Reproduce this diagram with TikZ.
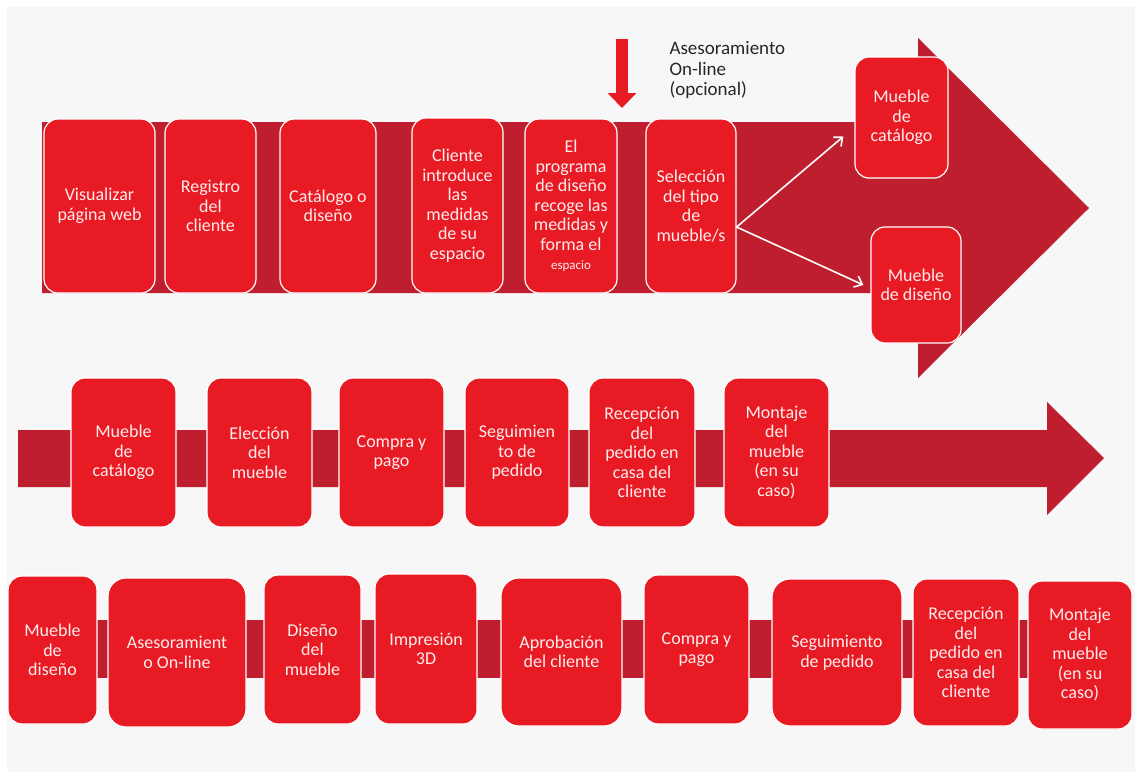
\documentclass[tikz,border=0pt]{standalone}
\usepackage{fontspec}
\setmainfont{Carlito}
\usepackage{tikz}
\usetikzlibrary{arrows.meta}
\definecolor{boxred}{RGB}{232,27,36}
\definecolor{bandred}{RGB}{190,30,45}
\definecolor{bggray}{RGB}{247,247,247}
\definecolor{boxtext}{RGB}{255,236,236}
\tikzstyle{block} = [rectangle, draw=white, line width=1.2pt, fill=boxred,
    rounded corners=14pt, text=boxtext, align=center, inner sep=0pt,
    font=\fontsize{18}{19.5}\selectfont]
\tikzstyle{band} = [fill=bandred]
\tikzstyle{line} = [draw=white, line width=1.6pt, -{Straight Barb[length=7pt,width=12pt]}]
\tikzstyle{advice} = [draw=boxred, line width=12pt, -{Triangle[length=15pt,width=28pt]}]

\begin{document}
\begin{tikzpicture}[x=1pt, y=-1pt]
   \useasboundingbox (0,0) rectangle (1135,772);
   \fill [bggray] (7,7) rectangle (1135,772);

   % big arrows behind the steps
   \fill [band] (42,122) -- (918,122) -- (918,38) -- (1089,208) -- (918,378)
      -- (918,293) -- (42,293) -- cycle;
   \fill [band] (18,430) -- (1047,430) -- (1047,402) -- (1104,458) -- (1047,515)
      -- (1047,487) -- (18,487) -- cycle;
   \fill [band] (52,620) rectangle (1080,678);

   % first row
   \node [block, minimum width=111pt, minimum height=174pt] (web) at (99.5,206)
      {Visualizar\\página web};
   \node [block, minimum width=91pt, minimum height=174pt] (registro) at (210.5,206)
      {Registro\\del\\cliente};
   \node [block, minimum width=96pt, minimum height=174pt] (eleccion) at (328,206)
      {Catálogo o\\diseño};
   \node [block, minimum width=91pt, minimum height=175pt] (medidas) at (457.5,205.5)
      {Cliente\\introduce\\las\\medidas\\de su\\espacio};
   \node [block, minimum width=92pt, minimum height=174pt] (programa) at (571,206)
      {El\\programa\\de diseño\\recoge las\\medidas y\\forma el\\{\fontsize{13}{15}\selectfont espacio}};
   \node [block, minimum width=90pt, minimum height=174pt] (seleccion) at (691,206)
      {Selección\\del tipo\\de\\mueble/s};
   \node [block, minimum width=93pt, minimum height=121pt] (catalogo) at (901.5,117.5)
      {Mueble\\de\\catálogo};
   \node [block, minimum width=90pt, minimum height=116pt] (diseno) at (916,285)
      {Mueble\\de diseño};

   \coordinate (advtop) at (622,39);
   \coordinate (advtip) at (622,108);
   \node [anchor=west, align=left, text=black!85, font=\fontsize{19}{20.5}\selectfont]
      (asesor) at (666,70) {Asesoramiento\\On-line\\(opcional)};

   % second row: catalogue furniture
   \node [block, minimum width=105pt, minimum height=149pt] (ccat) at (123.5,452.5)
      {Mueble\\de\\catálogo};
   \node [block, minimum width=105pt, minimum height=149pt] (celec) at (259.5,452.5)
      {Elección\\del\\mueble};
   \node [block, minimum width=105pt, minimum height=149pt] (ccompra) at (391.5,452.5)
      {Compra y\\pago};
   \node [block, minimum width=104pt, minimum height=149pt] (cseg) at (517,452.5)
      {Seguimien\\to de\\pedido};
   \node [block, minimum width=106pt, minimum height=149pt] (crecep) at (642,452.5)
      {Recepción\\del\\pedido en\\casa del\\cliente};
   \node [block, minimum width=105pt, minimum height=149pt] (cmont) at (776.5,452.5)
      {Montaje\\del\\mueble\\(en su\\caso)};

   % third row: designed furniture
   \node [block, minimum width=89pt, minimum height=148pt] (ddis) at (52.5,650)
      {Mueble\\de\\diseño};
   \node [block, minimum width=138pt, minimum height=149pt, rounded corners=18pt]
      (dases) at (177,652.5) {Asesoramient\\o On-line};
   \node [block, minimum width=97pt, minimum height=149pt] (ddiseno) at (312.5,649.5)
      {Diseño\\del\\mueble};
   \node [block, minimum width=102pt, minimum height=150pt] (dimpr) at (426,649)
      {Impresión\\3D};
   \node [block, minimum width=121pt, minimum height=148pt, rounded corners=18pt]
      (daprob) at (561.5,652) {Aprobación\\del cliente};
   \node [block, minimum width=105pt, minimum height=149pt] (dcompra) at (696.5,649.5)
      {Compra y\\pago};
   \node [block, minimum width=130pt, minimum height=147pt, rounded corners=18pt]
      (dseg) at (837,652.5) {Seguimiento\\de pedido};
   \node [block, minimum width=106pt, minimum height=147pt] (drecep) at (966,652.5)
      {Recepción\\del\\pedido en\\casa del\\cliente};
   \node [block, minimum width=104pt, minimum height=148pt] (dmont) at (1080,655)
      {Montaje\\del\\mueble\\(en su\\caso)};

   \path [advice] (advtop) -- (advtip);
   \path [line] ([yshift=-21pt]seleccion.east) -- ([xshift=-11pt,yshift=-19pt]catalogo.west);
   \path [line] ([yshift=-21pt]seleccion.east) -- ([xshift=-7pt]diseno.west);
\end{tikzpicture}
\end{document}
